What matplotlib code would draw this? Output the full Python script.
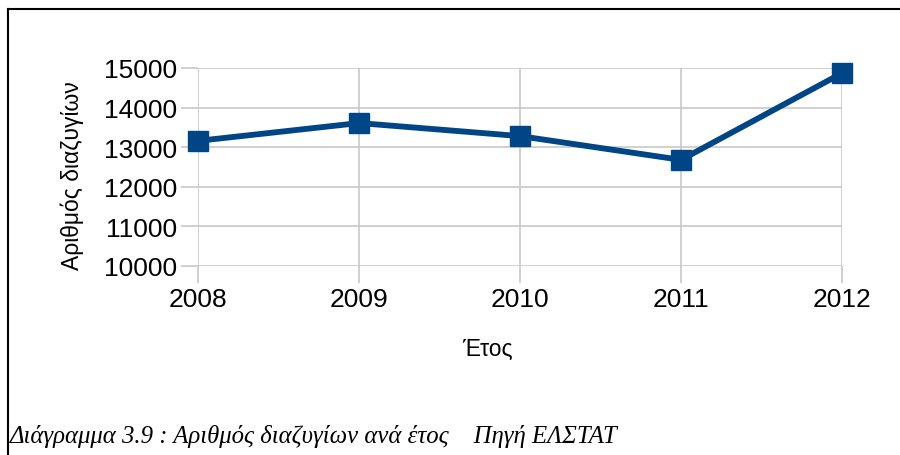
import matplotlib.pyplot as plt
from matplotlib.lines import Line2D

# data
years = ['2008', '2009', '2010', '2011', '2012']
divorces = [13160, 13610, 13280, 12680, 14870]
yticks = [10000, 11000, 12000, 13000, 14000, 15000]

fig = plt.figure(figsize=(9, 4.56), dpi=100)
W, H = 900, 456

# plot area in pixels: x 198..842, y 69..267 (top-down)
ax = fig.add_axes([198 / W, 1 - 267 / H, (842 - 198) / W, (267 - 69) / H])

x = list(range(len(years)))
ax.plot(x, divorces, color='#004586', linewidth=4.2, marker='s',
        markersize=15, zorder=3, clip_on=False)

ax.set_xlim(0, len(years) - 1)
ax.set_ylim(10000, 15000)
ax.set_xticks(x)
ax.set_xticklabels(years)
ax.set_yticks(yticks)

for s in ax.spines.values():
    s.set_visible(False)
ax.grid(True, color='#c8c8c8', linewidth=1.2)
ax.tick_params(axis='both', colors='#c8c8c8', width=1.2, length=12,
               labelcolor='black', labelsize=19, pad=3)
for lab in ax.get_xticklabels() + ax.get_yticklabels():
    lab.set_family('Liberation Sans')

ax.set_xlabel('Έτος', fontsize=16.5, family='Liberation Sans')
ax.set_ylabel('Αριθμός διαζυγίων', fontsize=16.5, family='Liberation Sans')
ax.xaxis.set_label_coords(0.449, -0.36)
ax.yaxis.set_label_coords(-0.177, 0.46)

# outer frame (top and left lines)
fig.add_artist(Line2D([8 / W, 1], [1 - 10 / H, 1 - 10 / H], color='black',
                      linewidth=1.5, transform=fig.transFigure))
fig.add_artist(Line2D([8 / W, 8 / W], [0, 1 - 10 / H], color='black',
                      linewidth=1.5, transform=fig.transFigure))

fig.text(10 / W, 1 - 437 / H, 'Διάγραμμα 3.9 : Αριθμός διαζυγίων ανά έτος    Πηγή ΕΛΣΤΑΤ',
         fontsize=17.8, family='Liberation Serif', style='italic',
         va='center', ha='left')

fig.savefig('out.png', dpi=100, facecolor='white')
